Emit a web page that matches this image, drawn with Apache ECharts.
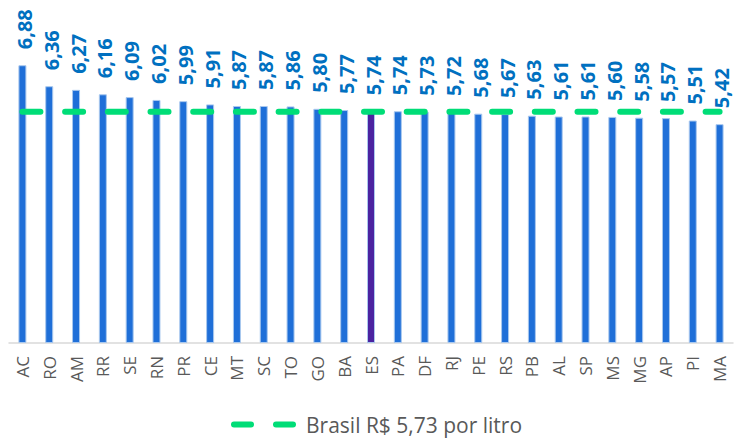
<!DOCTYPE html>
<html>
<head>
<meta charset="utf-8">
<script src="https://cdn.jsdelivr.net/npm/echarts@6/dist/echarts.min.js"></script>
<style>
  html, body { margin: 0; padding: 0; background: #fff; }
  #chart { width: 738px; height: 439px; }
</style>
</head>
<body>
<div id="chart"></div>
<script>
// estados e preço médio (R$/litro)
const states = ['AC', 'RO', 'AM', 'RR', 'SE', 'RN', 'PR', 'CE', 'MT', 'SC', 'TO', 'GO', 'BA', 'ES',
  'PA', 'DF', 'RJ', 'PE', 'RS', 'PB', 'AL', 'SP', 'MS', 'MG', 'AP', 'PI', 'MA'];
const prices = [6.88, 6.36, 6.27, 6.16, 6.09, 6.02, 5.99, 5.91, 5.87, 5.87, 5.86, 5.80, 5.77, 5.74,
  5.74, 5.73, 5.72, 5.68, 5.67, 5.63, 5.61, 5.61, 5.60, 5.58, 5.57, 5.51, 5.42];
const highlightState = 'ES';
const brasilName = 'Brasil R$ 5,73 por litro';
const brasilAvg = 5.73;

const fmt = (v) => v.toFixed(2).replace('.', ',');

const chart = echarts.init(document.getElementById('chart'), null, { renderer: 'svg' });

const barData = prices.map((v, i) => ({
  value: v,
  itemStyle: states[i] === highlightState ? { color: '#4B23A0' } : undefined
}));

// ícone da legenda: dois traços arredondados
const dashIcon = 'path://M3,0H20A3,3,0,0,1,20,6H3A3,3,0,0,1,3,0Z M45,0H62A3,3,0,0,1,62,6H45A3,3,0,0,1,45,0Z';

const option = {
  animation: false,
  textStyle: { fontFamily: 'Open Sans' },
  grid: { left: 9, right: 5, top: 20, bottom: 96 },
  legend: {
    data: [{ name: brasilName, icon: dashIcon }],
    top: 409,
    left: 226,
    itemWidth: 65,
    itemHeight: 6,
    itemGap: 10,
    textStyle: { color: '#595959', fontSize: 21, padding: [0, 0, 0, 5] }
  },
  xAxis: {
    type: 'category',
    data: states,
    axisLine: { lineStyle: { color: '#D9D9D9', width: 1.5 } },
    axisTick: { show: false },
    axisLabel: { rotate: 90, color: '#595959', fontSize: 17, margin: 13, interval: 0 }
  },
  yAxis: {
    type: 'value',
    min: 0,
    max: 8,
    show: false
  },
  series: [
    {
      type: 'bar',
      data: barData,
      barWidth: 8,
      itemStyle: { color: '#1F6FD8', borderColor: '#A9C8EE', borderWidth: 1 },
      label: {
        show: true,
        position: 'top',
        rotate: 90,
        align: 'left',
        verticalAlign: 'middle',
        distance: 16,
        offset: [0, 2],
        color: '#0070C0',
        fontWeight: 'bold',
        fontSize: 20,
        formatter: (p) => fmt(p.value)
      },
      z: 2
    },
    {
      name: brasilName,
      type: 'line',
      data: states.map(() => brasilAvg),
      symbol: 'none',
      lineStyle: { color: '#00DD77', width: 6, type: [18, 24.7], cap: 'round' },
      itemStyle: { color: '#00DD77' },
      z: 3
    }
  ]
};

chart.setOption(option);
</script>
</body>
</html>
